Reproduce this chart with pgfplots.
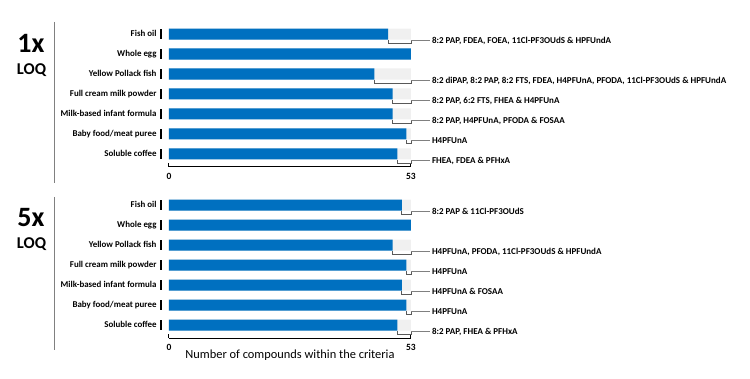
\documentclass[border=0pt]{standalone}
\usepackage{fontspec}
\setmainfont{Carlito}
\usepackage{pgfplots}
\pgfplotsset{compat=1.18}
\definecolor{barblue}{HTML}{0070C0}
\definecolor{restgray}{HTML}{F0F0F0}
\definecolor{brk}{HTML}{595959}
\definecolor{conn}{HTML}{808080}
\definecolor{sideline}{HTML}{808080}
\newcommand{\tk}{\hspace{4pt}\rule[-2pt]{1.3pt}{9.5pt}}
\tikzset{lab/.style={anchor=west, inner sep=1.5pt, font=\bfseries\fontsize{9}{10}\selectfont, text=black}}
\pgfplotsset{
 panel/.style={
  scale only axis, width=242pt, height=143pt,
  xmin=0, xmax=53, ymin=-0.65, ymax=6.5,
  axis x line=bottom, axis y line=left,
  y axis line style={draw=none},
  x axis line style={-, line width=1pt, black},
  xtick={0,53}, xtick align=inside, major tick length=4pt,
  x tick style={line width=1pt, black},
  ytick={0,...,6}, y tick style={draw=none},
  yticklabels={Soluble coffee\tk, Baby food/meat puree\tk, Milk-based infant formula\tk, Full cream milk powder\tk, Yellow Pollack fish\tk, Whole egg\tk, Fish oil\tk},
  tick label style={font=\bfseries\fontsize{8.9}{10}\selectfont},
  xticklabel style={yshift=-3pt, font=\bfseries\fontsize{9.5}{10}\selectfont, /pgf/number format/assume math mode=true},
  yticklabel style={inner sep=0pt, xshift=-5pt},
  clip=false,
  bars/.style={xbar, bar width=11pt, bar shift=0pt},
  brk/.style={sharp plot, draw=brk, line width=0.8pt, no marks, forget plot},
  conn/.style={sharp plot, draw=conn, line width=0.7pt, no marks, forget plot},
 }
}
\begin{document}
\begin{tikzpicture}
\path[use as bounding box] (0,0) rectangle (750pt,378pt);
% ---------- top panel (1x LOQ) ----------
\begin{axis}[panel, at={(169pt,211pt)}, anchor=south west]
\addplot[bars, fill=restgray, draw=none] coordinates {(53,0) (53,1) (53,2) (53,3) (53,4) (53,5) (53,6)};
\addplot[bars, fill=barblue, draw=none] coordinates {(50,0) (52,1) (49,2) (49,3) (45,4) (53,5) (48,6)};
\addplot[brk] coordinates {(48,5.7) (48,5.55) (53,5.55) (53,5.7)};
\addplot[conn] coordinates {(53,5.66) (57.2,5.66)} node[pos=1, lab] {8:2 PAP, FDEA, FOEA, 11Cl-PF3OUdS \& HPFUndA};
\addplot[brk] coordinates {(45,3.7) (45,3.55) (53,3.55) (53,3.7)};
\addplot[conn] coordinates {(53,3.66) (57.2,3.66)} node[pos=1, lab] {8:2 diPAP, 8:2 PAP, 8:2 FTS, FDEA, H4PFUnA, PFODA, 11Cl-PF3OUdS \& HPFUndA};
\addplot[brk] coordinates {(49,2.7) (49,2.55) (53,2.55) (53,2.7)};
\addplot[conn] coordinates {(53,2.66) (57.2,2.66)} node[pos=1, lab] {8:2 PAP, 6:2 FTS, FHEA \& H4PFUnA};
\addplot[brk] coordinates {(49,1.7) (49,1.55) (53,1.55) (53,1.7)};
\addplot[conn] coordinates {(53,1.66) (57.2,1.66)} node[pos=1, lab] {8:2 PAP, H4PFUnA, PFODA \& FOSAA};
\addplot[brk] coordinates {(52,0.7) (52,0.55) (53,0.55) (53,0.7)};
\addplot[conn] coordinates {(53,0.66) (57.2,0.66)} node[pos=1, lab] {H4PFUnA};
\addplot[brk] coordinates {(50,-0.3) (50,-0.45) (53,-0.45) (53,-0.3)};
\addplot[conn] coordinates {(53,-0.34) (57.2,-0.34)} node[pos=1, lab] {FHEA, FDEA \& PFHxA};
\end{axis}
% ---------- bottom panel (5x LOQ) ----------
\begin{axis}[panel, at={(169pt,40pt)}, anchor=south west,
  xlabel={Number of compounds within the criteria},
  xlabel style={at={(axis description cs:0.5,0)}, anchor=center, yshift=-17pt, font=\fontsize{12.4}{14}\selectfont}]
\addplot[bars, fill=restgray, draw=none] coordinates {(53,0) (53,1) (53,2) (53,3) (53,4) (53,5) (53,6)};
\addplot[bars, fill=barblue, draw=none] coordinates {(50,0) (52,1) (51,2) (52,3) (49,4) (53,5) (51,6)};
\addplot[brk] coordinates {(51,5.7) (51,5.55) (53,5.55) (53,5.7)};
\addplot[conn] coordinates {(53,5.66) (57.2,5.66)} node[pos=1, lab] {8:2 PAP \& 11Cl-PF3OUdS};
\addplot[brk] coordinates {(49,3.7) (49,3.55) (53,3.55) (53,3.7)};
\addplot[conn] coordinates {(53,3.66) (57.2,3.66)} node[pos=1, lab] {H4PFUnA, PFODA, 11Cl-PF3OUdS \& HPFUndA};
\addplot[brk] coordinates {(52,2.7) (52,2.55) (53,2.55) (53,2.7)};
\addplot[conn] coordinates {(53,2.66) (57.2,2.66)} node[pos=1, lab] {H4PFUnA};
\addplot[brk] coordinates {(51,1.7) (51,1.55) (53,1.55) (53,1.7)};
\addplot[conn] coordinates {(53,1.66) (57.2,1.66)} node[pos=1, lab] {H4PFUnA \& FOSAA};
\addplot[brk] coordinates {(52,0.7) (52,0.55) (53,0.55) (53,0.7)};
\addplot[conn] coordinates {(53,0.66) (57.2,0.66)} node[pos=1, lab] {H4PFUnA};
\addplot[brk] coordinates {(50,-0.3) (50,-0.45) (53,-0.45) (53,-0.3)};
\addplot[conn] coordinates {(53,-0.34) (57.2,-0.34)} node[pos=1, lab] {8:2 PAP, FHEA \& PFHxA};
\end{axis}
% ---------- side titles ----------
\node[font=\bfseries\fontsize{28}{30}\selectfont] at (31pt,335pt) {1x};
\node[font=\bfseries\fontsize{16.5}{18}\selectfont] at (31.5pt,308pt) {LOQ};
\draw[sideline, line width=1pt] (54pt,356pt) -- (54pt,195pt);
\node[font=\bfseries\fontsize{28}{30}\selectfont] at (31pt,160pt) {5x};
\node[font=\bfseries\fontsize{16.5}{18}\selectfont] at (31.5pt,134pt) {LOQ};
\draw[sideline, line width=1pt] (54pt,181pt) -- (54pt,28pt);
\end{tikzpicture}
\end{document}
